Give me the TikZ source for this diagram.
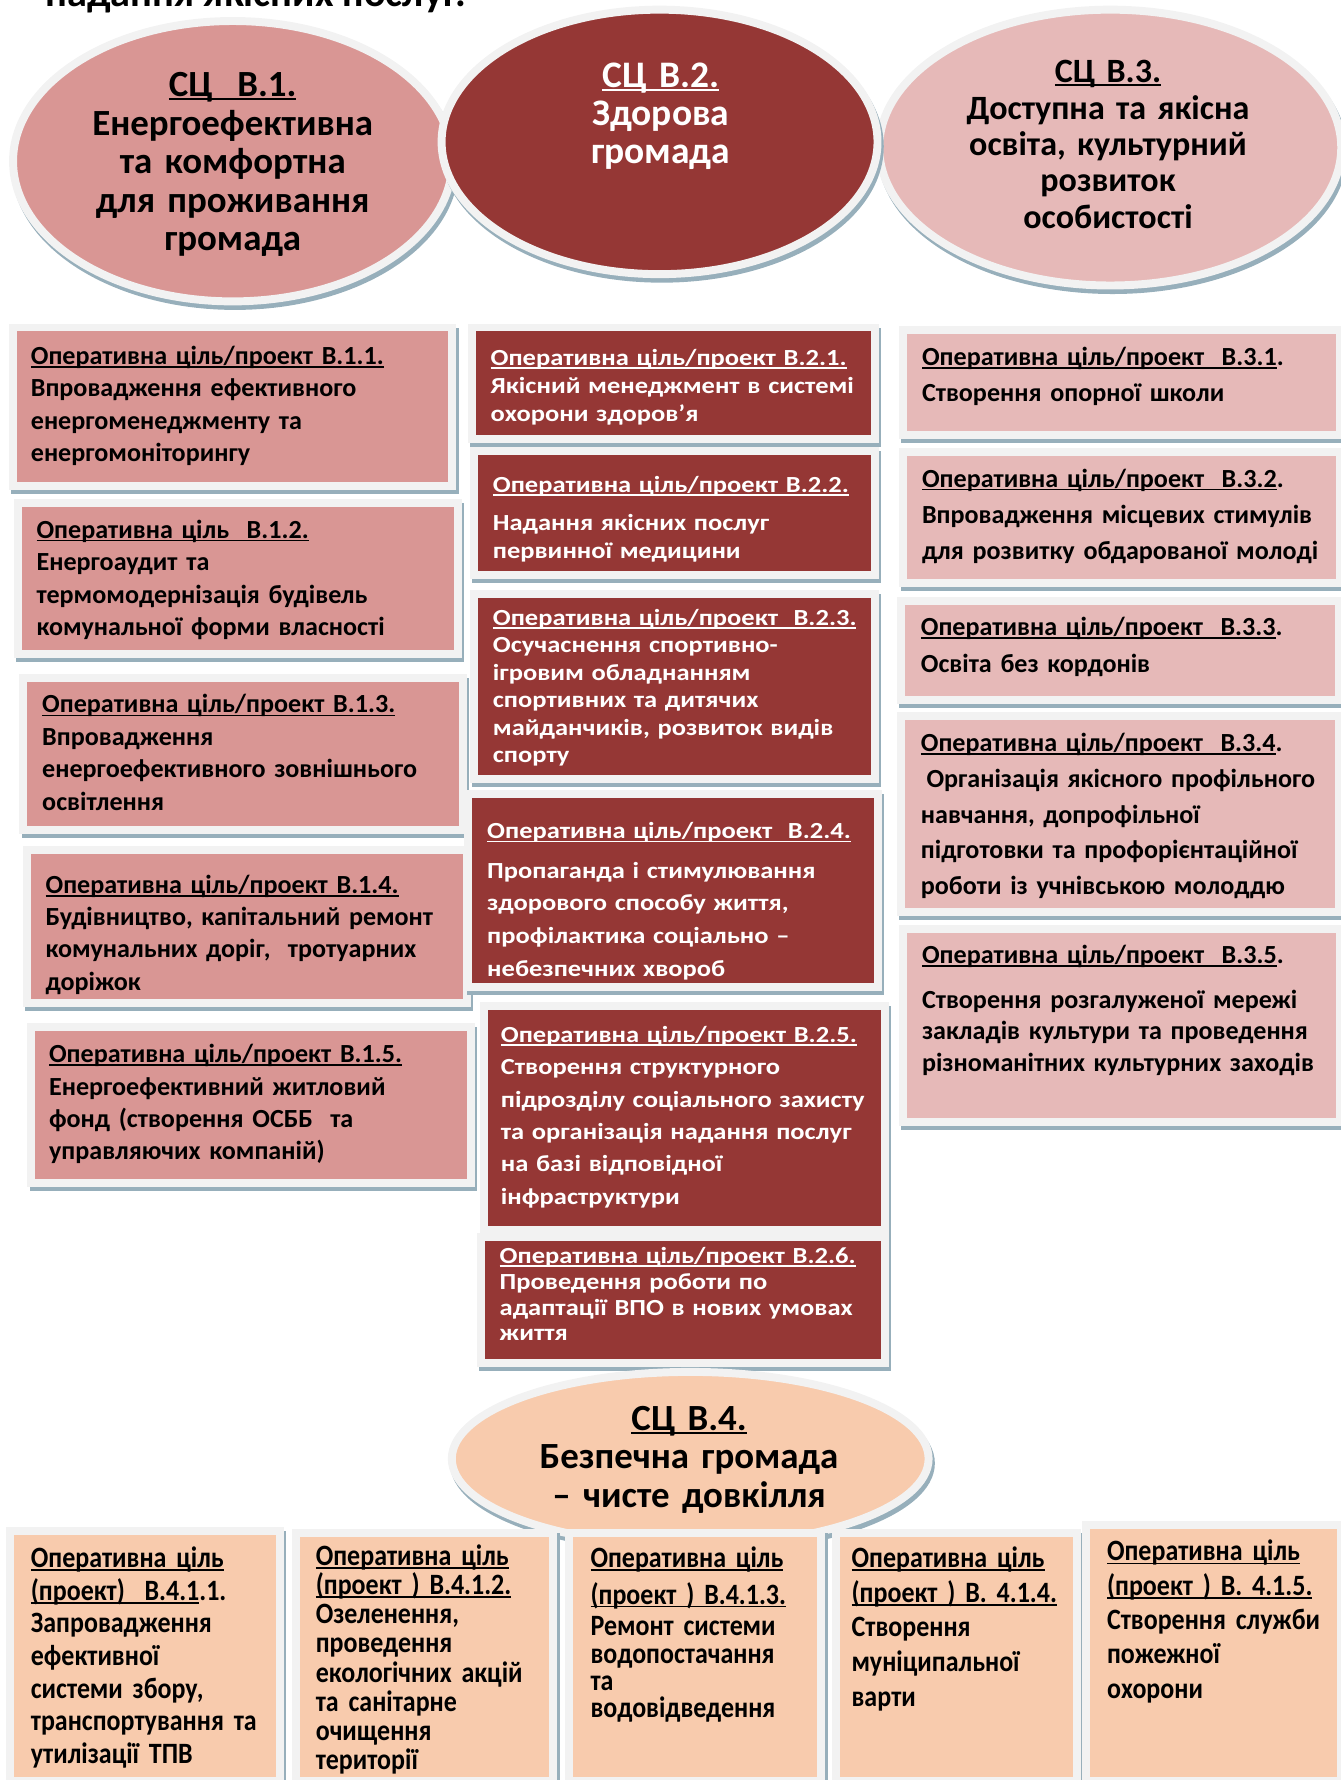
\documentclass[tikz,border=0pt]{standalone}
\usepackage{fontspec}
\setmainfont{Carlito}
\newfontfamily\wideface{Carlito}[FakeStretch=1.15]
\newfontfamily\narrowface{Carlito}[FakeStretch=0.88]
\usetikzlibrary{positioning}
\usetikzlibrary{shapes}

\definecolor{scpink}{HTML}{D99694}
\definecolor{scred}{HTML}{953735}
\definecolor{scrose}{HTML}{E6B9B8}
\definecolor{scpeach}{HTML}{F8CBAD}
\definecolor{ringgray}{HTML}{F2F2F2}
\definecolor{shadowblue}{HTML}{97AFBB}

% underline at a fixed depth
\newcommand{\uln}[1]{\leavevmode\setbox0\hbox{#1}\rlap{\rule[-3pt]{\wd0}{1.6pt}}\box0}

\tikzset{
    goalring/.style={ellipse, fill=#1, draw=ringgray, line width=7pt, inner sep=0pt, outer sep=0pt,
        preaction={draw=shadowblue, line width=7pt, transform canvas={xshift=2pt,yshift=-4pt}}},
    oppanel/.style={rectangle, fill=#1, draw=ringgray, line width=7pt, inner sep=0pt, outer sep=0pt,
        preaction={draw=shadowblue, fill=shadowblue, line width=7pt, transform canvas={xshift=2pt,yshift=-3.5pt}}},
    goaltext/.style={anchor=base, inner sep=0pt, text width=420pt, align=center, font=\bfseries\fontsize{32.5}{#1}\selectfont},
    optext/.style={anchor=base west, inner sep=0pt, text width=420pt, align=left, font=\bfseries\fontsize{23}{#1}\selectfont},
    optextwide/.style={optext=#1, font=\wideface\bfseries\fontsize{20.3}{#1}\selectfont},
    optextnarrow/.style={optext=#1, text width=240pt, font=\narrowface\bfseries\fontsize{26}{#1}\selectfont}
}

\begin{document}
\begin{tikzpicture}[x=1pt,y=-1pt]
        \useasboundingbox (0,0) rectangle (1181,1568);

        \node[anchor=base west, inner sep=0pt, font=\bfseries\fontsize{35.5}{40}\selectfont] (title) at (40,6) {надання якісних послуг.};

        % strategic goals
        \node[goalring=scpink, minimum width=387, minimum height=247] (ellSC1) at (205,142) {};
        \node[goalring=scrose, minimum width=407, minimum height=243] (ellSC3) at (978,130) {};
        \node[goalring=scred, minimum width=384, minimum height=233] (ellSC2) at (581,125) {};
        \node[goaltext=34] (txtSC1) at (205,85) {\uln{СЦ~~В.1.}\\Енергоефективна\\та комфортна\\для проживання\\громада};
        \node[goaltext=33.5, text=white, font=\bfseries\fontsize{33}{33.5}\selectfont] (txtSC2) at (582,77) {\uln{СЦ В.2.}\\Здорова\\громада};
        \node[goaltext=32, font=\bfseries\fontsize{30}{32}\selectfont] (txtSC3) at (976,73) {\uln{СЦ В.3.}\\Доступна та якісна\\освіта, культурний\\розвиток\\особистості};

        % B.1
        \node[oppanel=scpink, minimum width=387, minimum height=140] (rectB11) at (205,358.5) {};
        \node[optext=28.6] (txtB11) at (27,321) {\uln{Оперативна ціль/проект В.1.1.}\\Впровадження ефективного\\енергоменеджменту та\\енергомоніторингу};
        \node[oppanel=scpink, minimum width=388, minimum height=133] (rectB12) at (209.5,510) {};
        \node[optext=28.6] (txtB12) at (32,474) {\uln{Оперативна ціль~~В.1.2.}\\Енергоаудит та\\термомодернізація будівель\\комунальної форми власності};
        \node[oppanel=scpink, minimum width=387, minimum height=134] (rectB13) at (214,664.5) {};
        \node[optext=28.6] (txtB13) at (37,628) {\uln{Оперативна ціль/проект В.1.3.}\\Впровадження\\енергоефективного зовнішнього\\освітлення};
        \node[oppanel=scpink, minimum width=388, minimum height=135] (rectB14) at (217.5,816) {};
        \node[optext=28.4] (txtB14) at (40,787) {\uln{Оперативна ціль/проект В.1.4.}\\Будівництво, капітальний ремонт\\комунальних доріг,~~тротуарних\\доріжок};
        \node[oppanel=scpink, minimum width=387, minimum height=138] (rectB15) at (221,973.5) {};
        \node[optext=28.6] (txtB15) at (43,936) {\uln{Оперативна ціль/проект В.1.5.}\\Енергоефективний житловий\\фонд (створення ОСББ~~та\\управляючих компаній)};

        % B.2
        \node[oppanel=scred, minimum width=355, minimum height=98] (rectB21) at (593,337.5) {};
        \node[optextwide=24.5, text=white] (txtB21) at (432,322) {\uln{Оперативна ціль/проект В.2.1.}\\Якісний менеджмент в системі\\охорони здоров’я};
        \node[oppanel=scred, minimum width=353, minimum height=109] (rectB22) at (594,452) {};
        \node[optextwide=25, text=white] (txtB22) at (434,434) {\uln{Оперативна ціль/проект В.2.2.}\\[8pt]Надання якісних послуг\\первинної медицини};
        \node[oppanel=scred, minimum width=353, minimum height=163] (rectB23) at (594,605) {};
        \node[optextwide=24.2, text=white] (txtB23) at (434,551) {\uln{Оперативна ціль/проект~~В.2.3.}\\Осучаснення спортивно-\\ігровим обладнанням\\спортивних та дитячих\\майданчиків, розвиток видів\\спорту};
        \node[oppanel=scred, minimum width=361, minimum height=170] (rectB24) at (593,784.5) {};
        \node[optextwide=28.7, text=white] (txtB24) at (429,739) {\uln{Оперативна ціль/проект~~В.2.4.}\\[6pt]Пропаганда і стимулювання\\здорового способу життя,\\профілактика соціально –\\небезпечних хвороб};
        \node[oppanel=scred, minimum width=353, minimum height=197] (rectB25) at (603,985) {};
        \node[optextwide=28.6, text=white] (txtB25) at (441,918) {\uln{Оперативна ціль/проект В.2.5.}\\Створення структурного\\підрозділу соціального захисту\\та організація надання послуг\\на базі відповідної\\інфраструктури};
        \node[oppanel=scred, minimum width=356, minimum height=111] (rectB26) at (601.5,1145) {};
        \node[optextwide=22.7, text=white] (txtB26) at (440,1113) {\uln{Оперативна ціль/проект В.2.6.}\\Проведення роботи по\\адаптації ВПО в нових умовах\\життя};

        % B.3
        \node[oppanel=scrose, minimum width=385, minimum height=93] (rectB31) at (988,337) {};
        \node[optext=32] (txtB31) at (812,322) {\uln{Оперативна ціль/проект~~В.3.1}.\\Створення опорної школи};
        \node[oppanel=scrose, minimum width=385, minimum height=115] (rectB32) at (988,456) {};
        \node[optext=32] (txtB32) at (812,429) {\uln{Оперативна ціль/проект~~В.3.2}.\\Впровадження місцевих стимулів\\для розвитку обдарованої молоді};
        \node[oppanel=scrose, minimum width=386, minimum height=87] (rectB33) at (986.5,573) {};
        \node[optext=32] (txtB33) at (811,560) {\uln{Оперативна ціль/проект~~В.3.3}.\\Освіта без кордонів};
        \node[oppanel=scrose, minimum width=386, minimum height=173] (rectB34) at (986.5,717) {};
        \node[optext=31.5] (txtB34) at (811,662) {\uln{Оперативна ціль/проект~~В.3.4}.\\\hspace*{5pt}Організація якісного профільного\\навчання, допрофільної\\підготовки та профорієнтаційної\\роботи із учнівською молоддю};
        \node[oppanel=scrose, minimum width=385, minimum height=170] (rectB35) at (988,903.5) {};
        \node[optext=28] (txtB35) at (812,849) {\uln{Оперативна ціль/проект~~В.3.5}.\\[11pt]\makebox[351pt][s]{Створення розгалуженої мережі}\\\makebox[351pt][s]{закладів культури та проведення}\\різноманітних культурних заходів};

        % B.4
        \node[goalring=scpeach, minimum width=420, minimum height=153] (ellSC4) at (608,1285) {};
        \node[goaltext=34] (txtSC4) at (607,1260) {\uln{СЦ В.4.}\\Безпечна громада\\– чисте довкілля};

        \node[oppanel=scpeach, minimum width=238, minimum height=220] (rectB411) at (127.5,1458.5) {};
        \node[optextnarrow=28.7] (txtB411) at (27,1381) {\uln{Оперативна ціль}\\\uln{(проект)~~В.4.1}.1.\\Запровадження\\ефективної\\системи збору,\\транспортування та\\утилізації ТПВ};
        \node[oppanel=scpeach, minimum width=227, minimum height=218] (rectB412) at (374,1459.5) {};
        \node[optextnarrow=25.7] (txtB412) at (278,1379) {\uln{Оперативна ціль}\\\uln{(проект ) В.4.1.2.}\\Озеленення,\\проведення\\екологічних акцій\\та санітарне\\очищення\\території};
        \node[oppanel=scpeach, minimum width=222, minimum height=218] (rectB413) at (612.5,1459.5) {};
        \node[optextnarrow=24] (txtB413) at (520,1381) {\uln{Оперативна ціль}\\[8pt]\uln{(проект ) В.4.1.3.}\\[4pt]Ремонт системи\\водопостачання\\та\\водовідведення};
        \node[oppanel=scpeach, minimum width=212, minimum height=218] (rectB414) at (842.5,1459.5) {};
        \node[optextnarrow=30.5] (txtB414) at (750,1381) {\uln{Оперативна ціль}\\\uln{(проект ) В. 4.1.4.}\\Створення\\муніципальної\\варти};
        \node[oppanel=scpeach, minimum width=225, minimum height=225] (rectB415) at (1069,1456) {};
        \node[optextnarrow=30.2] (txtB415) at (975,1375) {\uln{Оперативна ціль}\\\uln{(проект ) В. 4.1.5.}\\Створення служби\\пожежної\\охорони};

    \end{tikzpicture}
\end{document}
